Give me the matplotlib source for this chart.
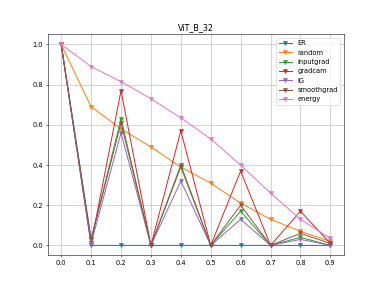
import numpy as np
import matplotlib
matplotlib.use("Agg")
import matplotlib.pyplot as plt

x = [0.0, 0.1, 0.2, 0.3, 0.4, 0.5, 0.6, 0.7, 0.8, 0.9]
er = [1.0, 0.0, 0.0, 0.0, 0.0, 0.0, 0.0, 0.0, 0.0, 0.0]
rnd = [1.0, 0.69, 0.58, 0.49, 0.39, 0.31, 0.21, 0.13, 0.07, 0.02]
inputgrad = [1.0, 0.03, 0.63, 0.0, 0.39, 0.0, 0.17, 0.0, 0.04, 0.0]
gradcam = [1.0, 0.01, 0.77, 0.0, 0.57, 0.0, 0.37, 0.0, 0.17, 0.01]
ig = [1.0, 0.01, 0.56, 0.0, 0.32, 0.0, 0.13, 0.0, 0.03, 0.0]
smoothgrad = [1.0, 0.03, 0.61, 0.0, 0.40, 0.0, 0.20, 0.0, 0.06, 0.01]
energy = [1.0, 0.89, 0.815, 0.73, 0.635, 0.53, 0.40, 0.26, 0.13, 0.035]

series = [("ER", er), ("random", rnd), ("inputgrad", inputgrad), ("gradcam", gradcam),
          ("IG", ig), ("smoothgrad", smoothgrad), ("energy", energy)]

dpi = 382 / 8
fig = plt.figure(figsize=(8, 287 / dpi), dpi=dpi)
ax = fig.add_subplot(111)
for name, vals in series:
    ax.plot(x, vals, marker="v", label=name)
ax.set_title("ViT_B_32")
ax.set_xticks(x)
ax.set_yticks([0.0, 0.2, 0.4, 0.6, 0.8, 1.0])
ax.grid(True)
ax.legend(loc="upper right")
fig.savefig("out.png", dpi=dpi)
